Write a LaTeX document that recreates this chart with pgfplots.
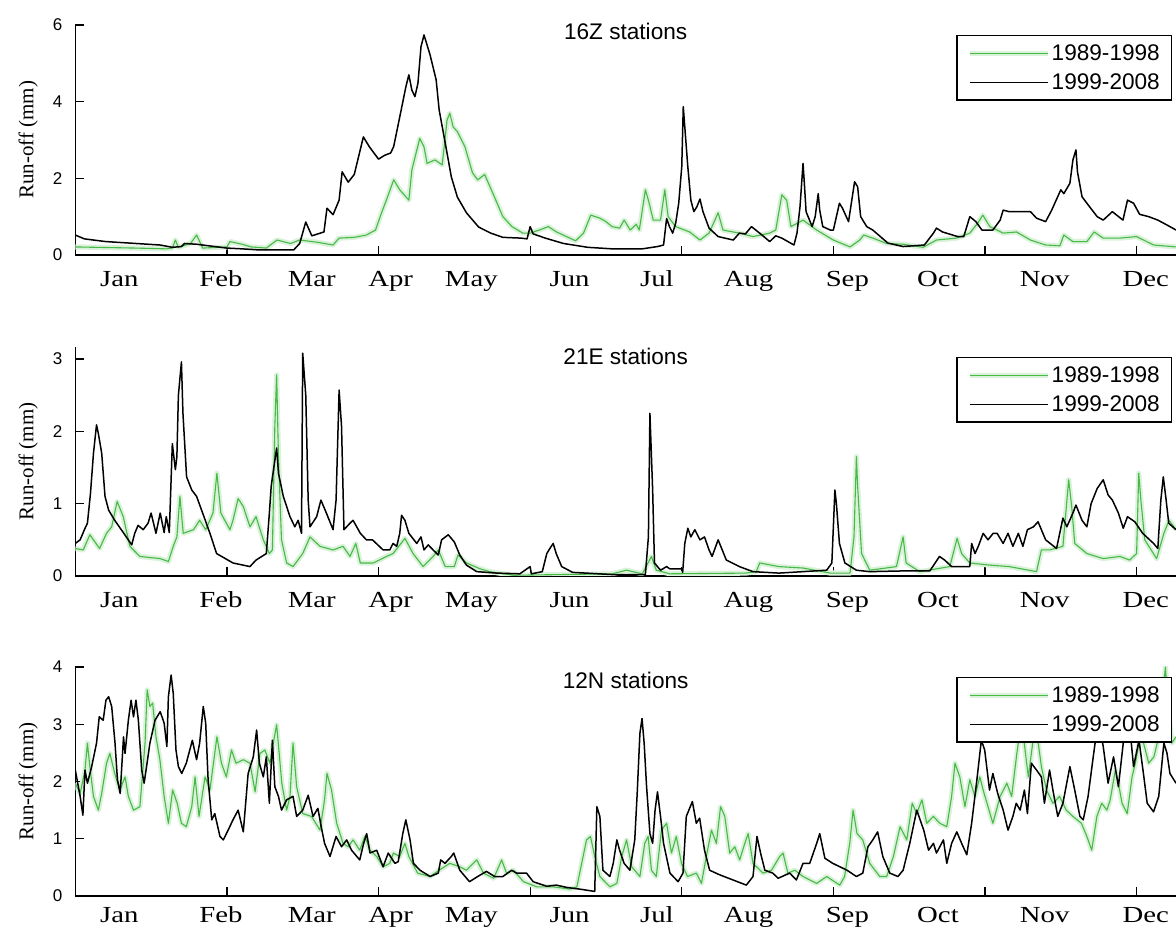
\documentclass[border=0pt]{standalone}
\usepackage{fontspec}
\setmainfont{Liberation Serif}
\newfontfamily\sansf{Liberation Sans}
\newfontfamily\monthf[FakeStretch=1.25]{Liberation Serif}
\usepackage{pgfplots}
\pgfplotsset{compat=1.18}
\definecolor{pgreen}{RGB}{70,185,70}
\pgfplotsset{
 panel/.style={
  scale only axis, width=550.35pt,
  xmin=0, xmax=363, ymin=0,
  axis x line*=bottom, axis y line*=left,
  axis line style={-, line width=0.6pt},
  xtick={50,100,...,350}, xticklabels={},
  major tick length=4.5pt, tick style={line width=0.6pt, black},
  extra x ticks={14.5,48,78,104,130.6,163,191.8,222,254.6,284.5,319.7,353},
  extra x tick labels={Jan,Feb,Mar,Apr,May,Jun,Jul,Aug,Sep,Oct,Nov,Dec},
  extra x tick style={major tick length=0pt},
  xticklabel style={font=\monthf\fontsize{11.5}{13}\selectfont, anchor=base, yshift=-16pt},
  yticklabel style={font=\sansf\fontsize{8.5}{10}\selectfont, xshift=-3pt},
  /pgf/number format/assume math mode=true,
  ylabel={Run-off (mm)},
  ylabel style={font=\fontsize{10.5}{12}\selectfont, at={(axis description cs:-0.0427,0.5)}, anchor=center},
  title style={font=\sansf\fontsize{11.3}{13}\selectfont, at={(axis description cs:0.5,1)}, anchor=center},
  legend style={font=\sansf\fontsize{11.3}{13}\selectfont, at={(1,1)}, anchor=north east, xshift=-2pt, yshift=-5pt, draw=black, line width=0.6pt, fill=white, inner xsep=5pt, inner ysep=3pt, row sep=3pt, nodes={inner sep=0.8pt, text height=8.5pt, text depth=1.5pt}},
  legend cell align=left,
  legend image code/.code={\draw[##1] (0pt,0pt) -- (39pt,0pt);},
 },
 gline/.style={color=pgreen, line width=0.55pt, line join=round, preaction={draw=pgreen!20, line width=2.6pt}},
 bline/.style={black, line width=0.75pt, line join=round},
}
\begin{document}
\begin{tikzpicture}
% ---------------- Panel 1: 16Z
\begin{axis}[panel, at={(37.65pt,337pt)}, anchor=south west, height=115pt,
  ymax=6, ytick={0,2,4,6}, title={16Z stations}, title style={yshift=-9pt}]
\addplot[gline] coordinates {
(0,0.21) (20,0.18) (30,0.16) (32,0.18) (33,0.39) (34,0.2) (38,0.3) (40,0.52) (42,0.18) (50,0.21) (51,0.35) (55,0.28) (58,0.21) (63,0.18) (66.5,0.39) (71,0.3) (74,0.39) (80,0.33) (85,0.26) (87,0.44) (92,0.46) (96,0.52) (99,0.65) (101,1.1) (103,1.52) (105,1.96) (107,1.7) (110,1.43) (111,2.22) (113.6,3.04) (115,2.82) (116,2.39) (118.6,2.48) (121,2.35) (122.6,3.52) (123.5,3.7) (124.6,3.34) (126,3.22) (128.5,2.82) (131,2.14) (132.7,1.96) (135,2.1) (137.7,1.61) (141,1.0) (144,0.74) (147.6,0.57) (150,0.57) (153,0.65) (156,0.74) (158.7,0.6) (162,0.48) (165,0.37) (167.6,0.57) (170,1.04) (173,0.96) (175,0.87) (177,0.74) (179.5,0.7) (181,0.91) (183,0.65) (185,0.8) (186,0.65) (188,1.7) (189,1.43) (190.6,0.91) (193,0.91) (194.4,1.7) (195.5,1.0) (198,0.74) (202.6,0.6) (206,0.39) (209,0.57) (212,1.1) (213.6,0.65) (219,0.57) (223.5,0.48) (229,0.57) (231,0.65) (233,1.57) (234.6,1.43) (236,0.74) (240,0.91) (244.5,0.65) (250,0.39) (255.5,0.21) (258.7,0.39) (260,0.52) (263,0.44) (267.6,0.3) (273,0.28) (279.6,0.2) (284,0.39) (290.6,0.44) (295,0.57) (297.6,0.83) (299.3,1.04) (301.6,0.74) (306,0.57) (310.4,0.6) (315,0.39) (320,0.26) (324.7,0.24) (326,0.52) (329,0.35) (333.6,0.35) (336,0.6) (339,0.44) (344.5,0.44) (350,0.48) (355.6,0.26) (363,0.21)
};
\addlegendentry{1989-1998}
\addplot[bline] coordinates {
(0,0.52) (3,0.42) (10,0.35) (20,0.3) (28,0.26) (32,0.2) (35,0.22) (36,0.3) (40,0.28) (45,0.23) (50,0.18) (55,0.16) (61,0.13) (66,0.13) (72,0.13) (74,0.3) (76,0.86) (78,0.5) (80,0.55) (82,0.6) (83,1.22) (85,1.05) (87,1.43) (88,2.17) (90,1.9) (92,2.1) (95,3.08) (97,2.82) (100,2.5) (102,2.6) (104,2.66) (105,2.83) (107,3.6) (109,4.38) (110,4.7) (111,4.3) (112,4.13) (113,4.48) (114,5.43) (115,5.74) (116,5.48) (117,5.22) (119,4.57) (120,3.78) (122,2.92) (124,2.04) (126,1.51) (129,1.1) (133,0.73) (137,0.57) (141,0.46) (147,0.44) (149,0.42) (150,0.74) (151,0.55) (155,0.44) (161,0.3) (169,0.2) (177,0.16) (187,0.16) (192,0.22) (194,0.26) (195,0.95) (196,0.73) (197,0.57) (198,0.83) (199,1.35) (200,2.3) (200.5,3.87) (201,3.34) (202,2.3) (203,1.43) (204,1.13) (205,1.26) (206,1.46) (207,1.13) (209,0.7) (212,0.48) (217,0.39) (219,0.57) (221,0.55) (223,0.74) (226,0.55) (229,0.35) (231,0.5) (233,0.44) (237,0.26) (238,0.57) (239,1.26) (240,2.39) (240.5,1.78) (241,1.13) (243,0.74) (244,1.0) (245,1.6) (245.5,1.17) (246.5,0.74) (249,0.65) (250,0.65) (252,1.35) (253,1.22) (255,0.87) (257,1.91) (258,1.78) (259,1.0) (261,0.74) (263,0.65) (268,0.31) (273,0.22) (280,0.26) (283,0.57) (284,0.7) (286,0.6) (291,0.48) (293,0.48) (295,1.0) (297,0.87) (299,0.65) (302.6,0.65) (305,0.91) (306,1.17) (308,1.13) (315,1.13) (317,0.96) (320,0.87) (322,1.17) (325,1.7) (326,1.6) (328,1.87) (329,2.48) (330,2.74) (330.5,2.17) (332,1.52) (333.6,1.35) (337,1.0) (339,0.91) (342,1.13) (345.5,0.91) (347,1.43) (349,1.35) (351,1.06) (354,1.0) (357,0.91) (361,0.74) (363,0.65)
};
\addlegendentry{1999-2008}
\end{axis}
% ---------------- Panel 2: 21E
\begin{axis}[panel, at={(37.65pt,176.5pt)}, anchor=south west, height=114.5pt,
  ymax=3.166, ytick={0,1,2,3}, title={21E stations}, title style={yshift=-10.5pt}]
\addplot[gline] coordinates {
(0,0.38) (2.6,0.36) (4.8,0.57) (8,0.38) (10.3,0.59) (12,0.68) (13.8,1.03) (15.8,0.82) (18,0.41) (21.3,0.27) (28,0.24) (30.7,0.2) (32.3,0.41) (33.5,0.54) (34.5,1.1) (35.6,0.59) (39,0.64) (41,0.77) (43,0.64) (45.4,0.87) (46.7,1.42) (48,0.87) (51,0.64) (52,0.77) (53.7,1.07) (55.4,0.96) (57.6,0.68) (59.6,0.82) (62,0.5) (64,0.31) (65,0.36) (65.8,2.07) (66.4,2.78) (67,1.65) (68,0.5) (69.7,0.18) (71.8,0.13) (75,0.31) (77.4,0.54) (80.7,0.41) (85,0.36) (88.3,0.41) (90.6,0.27) (92.5,0.45) (94,0.18) (98.3,0.18) (102.6,0.27) (104.8,0.31) (108.7,0.52) (111.4,0.31) (114.7,0.13) (118,0.27) (119.7,0.36) (122,0.13) (125,0.13) (126.2,0.29) (129,0.18) (133.4,0.1) (136.7,0.06) (144.4,0.01) (177,0.03) (181.8,0.08) (187,0.03) (190,0.27) (191.6,0.08) (196,0.03) (221,0.04) (224.6,0.06) (225.7,0.18) (232,0.13) (240,0.11) (249,0.04) (255.5,0.04) (256.8,0.54) (257.6,1.65) (258,1.24) (259.3,0.31) (262,0.08) (270.8,0.13) (273,0.54) (274,0.18) (278.5,0.06) (288.4,0.13) (290.8,0.52) (292.3,0.31) (295,0.18) (301.6,0.15) (308,0.13) (317,0.06) (318.6,0.36) (321.3,0.36) (325.7,0.41) (327.6,1.33) (328.6,0.96) (329.6,0.45) (333.6,0.31) (339,0.24) (344.5,0.27) (347.7,0.22) (350,0.31) (350.7,1.42) (351.4,1.05) (352.7,0.5) (356.6,0.24) (359,0.59) (360.7,0.77) (363,0.64)
};
\addlegendentry{1989-1998}
\addplot[bline] coordinates {
(0,0.45) (1.6,0.5) (3,0.64) (4,0.73) (5,1.14) (6,1.7) (7,2.09) (7.6,1.97) (8.7,1.7) (9.8,1.1) (11,0.91) (13,0.77) (16,0.59) (18.6,0.43) (19.6,0.59) (20.7,0.7) (22.4,0.64) (24,0.73) (25,0.87) (26.6,0.59) (28,0.87) (29.3,0.6) (30,0.82) (31,0.6) (32,1.83) (33,1.47) (33.5,1.65) (34,2.5) (35,2.96) (35.5,2.25) (36.7,1.37) (38.4,1.19) (40,1.1) (42,0.87) (44.4,0.59) (46.6,0.31) (52,0.18) (57.6,0.13) (59.6,0.22) (63,0.31) (64,0.87) (64.6,1.24) (65.5,1.51) (66.4,1.77) (67,1.42) (68.6,1.1) (70.8,0.82) (72.4,0.68) (73.5,0.77) (74.6,0.59) (75,3.08) (76,2.5) (76.8,1.05) (77.4,0.68) (79.6,0.82) (81,1.05) (82.8,0.87) (85,0.64) (86,1.05) (87,2.57) (87.8,2.07) (88.6,0.64) (90.6,0.73) (91.6,0.77) (94,0.59) (96,0.5) (98,0.5) (101.5,0.36) (103.7,0.36) (104.8,0.45) (106,0.41) (107,0.59) (107.6,0.84) (108.7,0.77) (110,0.59) (112.6,0.45) (114,0.54) (115,0.36) (116.4,0.43) (118,0.36) (119.7,0.29) (120.8,0.5) (123,0.57) (125,0.47) (126.8,0.29) (129,0.15) (132.4,0.06) (139,0.04) (146.6,0.03) (150,0.13) (150.4,0.03) (154,0.06) (155.5,0.31) (156.5,0.38) (157.6,0.45) (158.6,0.31) (160.4,0.13) (164,0.05) (177,0.02) (188,0.02) (189,0.54) (189.5,2.25) (190.4,1.19) (191,0.18) (193,0.08) (195,0.13) (196,0.1) (200,0.1) (200.3,0.05) (201,0.45) (202,0.66) (203,0.54) (204.3,0.64) (206,0.5) (207.5,0.54) (209,0.36) (210,0.27) (212,0.5) (214.7,0.22) (219,0.13) (223.5,0.06) (232,0.04) (240,0.06) (247.8,0.08) (249.5,0.18) (250,0.68) (250.5,1.19) (251,1.0) (252,0.45) (253.8,0.18) (257.6,0.08) (262,0.06) (273,0.07) (281.8,0.07) (285,0.27) (286.7,0.22) (289,0.13) (295,0.13) (295.6,0.45) (296.7,0.31) (297.8,0.41) (299.4,0.59) (301,0.5) (302.7,0.59) (304,0.59) (306,0.45) (307.6,0.59) (309.2,0.41) (311,0.59) (312.5,0.41) (314,0.64) (316,0.68) (317.5,0.75) (318.6,0.64) (320,0.5) (323.6,0.38) (325.7,0.8) (327,0.68) (329,0.87) (330,0.98) (332,0.77) (333.6,0.68) (335,1.0) (337,1.21) (339,1.33) (340.6,1.12) (342,1.05) (344,0.87) (345.6,0.66) (347,0.82) (349.4,0.75) (352,0.59) (355.6,0.45) (357,0.38) (358,1.05) (358.8,1.37) (359.6,1.1) (360.6,0.73) (363,0.64)
};
\addlegendentry{1999-2008}
\end{axis}
% ---------------- Panel 3: 12N
\begin{axis}[panel, at={(37.65pt,16.5pt)}, anchor=south west, height=114.5pt,
  ymax=4, ytick={0,1,2,3,4}, title={12N stations}, title style={yshift=-12.5pt},
  xticklabel style={yshift=2.5pt}]
\addplot[gline] coordinates {
(0,1.97) (1.6,1.79) (3.2,2.2) (4,2.67) (4.8,2.26) (6,1.74) (7.6,1.5) (8.7,1.79) (10.3,2.32) (11.4,2.49) (13,2.14) (14.7,1.85) (16.4,2.08) (17.5,1.74) (19.2,1.5) (21.3,1.56) (23,2.67) (23.7,3.6) (24.6,3.31) (25.5,3.37) (26.6,2.78) (27.9,2.38) (29.3,1.74) (30.7,1.27) (32.1,1.85) (33.6,1.62) (35,1.27) (36.6,1.21) (38.4,1.56) (39.5,2.08) (40.8,1.39) (42.8,2.08) (44.4,1.85) (46.7,2.78) (48.2,2.32) (49.8,2.08) (51.5,2.55) (53,2.32) (55.4,2.38) (57.6,2.32) (59.3,1.82) (60.9,2.49) (62.5,2.55) (64.2,2.32) (65.3,2.67) (66.4,2.99) (68.1,1.97) (69.7,1.5) (70.8,1.74) (71.8,2.67) (73,1.91) (75,1.44) (77.9,1.39) (80.7,1.15) (82.2,1.68) (83,2.14) (84.5,1.85) (86.2,1.27) (88.3,0.92) (90,0.86) (91.6,0.98) (93.8,0.8) (95.5,1.04) (97.2,0.8) (99.4,0.69) (101.5,0.51) (103.7,0.57) (104.9,0.75) (107,0.69) (108.7,0.92) (110,0.69) (112.9,0.4) (117,0.34) (120,0.45) (123.5,0.57) (126.8,0.51) (129,0.45) (132.4,0.63) (134.6,0.4) (138,0.31) (140.6,0.63) (142.2,0.4) (144.5,0.45) (147.8,0.25) (152.2,0.16) (157.6,0.16) (163.1,0.12) (165.4,0.16) (167,0.57) (168.6,0.98) (169.9,1.04) (171.3,0.69) (173,0.34) (176.3,0.16) (178.6,0.22) (180.2,0.69) (181.8,0.98) (183.5,0.51) (186.2,0.34) (187.8,0.92) (188.9,1.04) (190,0.45) (191.6,0.34) (193.3,1.15) (195,1.27) (196.6,0.75) (198.2,1.04) (199.9,0.57) (201.9,0.34) (204.8,0.4) (206.5,0.22) (208.1,0.69) (209.8,1.15) (211.4,0.92) (212.8,1.56) (214.2,1.39) (215.8,0.75) (217.5,0.86) (219.1,0.63) (220.8,0.92) (221.9,1.09) (223.5,0.57) (226.8,0.4) (229.6,0.45) (232.3,0.69) (233.4,0.75) (235,0.4) (237.3,0.45) (240,0.34) (244.5,0.22) (247.8,0.34) (252.1,0.19) (253.7,0.34) (255.4,0.92) (256.5,1.5) (257.8,1.09) (259.7,0.98) (262,0.57) (265.3,0.34) (267.6,0.34) (269.8,0.69) (272,1.21) (274.2,0.98) (276,1.62) (277.5,1.44) (279.2,1.68) (280.8,1.27) (283,1.39) (285.1,1.27) (287.4,1.21) (289,1.74) (290.1,2.32) (291.7,2.08) (293.4,1.56) (295,2.03) (296.7,1.74) (298.3,2.08) (299.4,1.85) (301,1.56) (302.6,1.27) (305,1.74) (307.2,1.97) (308.8,1.74) (310.5,2.49) (311.6,2.9) (312.7,2.78) (314.3,2.08) (316,2.78) (317,2.9) (318.6,2.26) (320.3,1.85) (322.4,1.62) (324.6,1.74) (326.8,1.5) (329,1.39) (331.8,1.27) (333.6,1.04) (335.2,0.8) (336.9,1.39) (338.5,1.62) (340.2,1.5) (341.3,1.68) (343,2.2) (344,1.97) (345.2,1.62) (346.9,1.44) (348.5,2.08) (349.6,2.32) (351.2,2.78) (352.3,2.67) (354,2.32) (355.7,2.43) (356.8,2.67) (358.4,3.37) (359.5,4.0) (360.5,3.25) (361.6,2.67) (363,2.78)
};
\addlegendentry{1989-1998}
\addplot[bline] coordinates {
(0,2.2) (0.8,1.97) (1.6,1.74) (2.5,1.41) (3.2,2.2) (4,1.97) (5.4,2.26) (7,2.67) (7.9,3.13) (9.2,3.07) (10.1,3.42) (11,3.48) (12,3.31) (13.1,2.67) (13.9,2.03) (14.8,1.79) (15.9,2.78) (16.4,2.49) (17.5,3.07) (18.4,3.42) (19.2,3.13) (20,3.42) (20.8,3.07) (21.9,2.2) (22.7,1.97) (23.5,2.26) (24.6,2.67) (26.3,3.07) (28,3.22) (29.3,3.02) (30.2,2.61) (30.7,3.48) (31.6,3.86) (32.3,3.54) (33.2,2.55) (34,2.26) (35.1,2.14) (36.6,2.32) (38.6,2.72) (40,2.38) (41,2.67) (42.2,3.31) (43,3.02) (43.8,2.03) (45,1.33) (46,1.44) (47.7,1.04) (48.8,0.98) (50.4,1.15) (52,1.33) (53.7,1.5) (55.4,1.12) (57,2.14) (58.7,2.43) (59.8,2.9) (60.7,2.32) (62,2.08) (63,2.43) (64,1.62) (65,2.72) (65.8,1.91) (67,1.74) (68,1.5) (69.7,1.68) (71.8,1.74) (73,1.39) (75,1.5) (76.8,1.76) (78.4,1.39) (80,1.53) (81.1,1.21) (82.2,0.92) (84,0.69) (86,1.04) (87.8,0.86) (89.5,0.98) (91.1,0.8) (93.8,0.63) (95.1,0.92) (96.1,1.09) (97.2,0.75) (99.4,0.8) (101.5,0.51) (103.2,0.75) (105.4,0.57) (106.5,0.6) (108,1.09) (109,1.33) (110.4,0.98) (111.5,0.57) (113.7,0.45) (117,0.34) (119.7,0.4) (120.5,0.63) (121.9,0.57) (124,0.69) (124.8,0.75) (126.8,0.45) (130,0.25) (132.7,0.34) (135.6,0.43) (138.3,0.34) (141,0.34) (143.9,0.45) (145.5,0.4) (148.8,0.4) (151,0.25) (155.5,0.17) (158.7,0.19) (162,0.15) (166.4,0.12) (171.3,0.08) (172,1.56) (173,1.39) (174,0.45) (176.3,0.34) (177.4,0.57) (178.6,0.98) (179.5,0.8) (181,0.57) (182.9,0.45) (184.5,0.98) (185.3,1.79) (186.2,2.84) (186.9,3.1) (187.6,2.67) (188.4,1.91) (189.5,1.09) (190.4,0.92) (191.2,1.5) (192,1.82) (193,1.39) (194,0.92) (196.1,0.4) (198.8,0.25) (200.4,0.4) (201.5,1.39) (203.5,1.65) (204.8,1.27) (205.9,1.36) (207.5,0.8) (209.2,0.45) (212.5,0.37) (216.9,0.28) (221.3,0.19) (223.5,0.34) (224.8,1.04) (226,0.75) (227.4,0.45) (230,0.4) (231.8,0.31) (235.6,0.4) (237.8,0.28) (240,0.57) (242.2,0.57) (244.5,0.92) (245.5,1.09) (247.2,0.66) (249.8,0.57) (254.5,0.45) (257.6,0.34) (259.7,0.4) (261.4,0.86) (263,0.98) (264.6,1.12) (266.3,0.69) (268.6,0.4) (271.3,0.34) (273,0.45) (275.2,0.92) (277.5,1.5) (279.8,1.15) (281.4,0.8) (283,0.92) (284,0.75) (286.3,0.98) (287.4,0.57) (289,0.92) (290.7,1.12) (292.3,0.92) (294,0.72) (295.6,1.27) (297.2,1.97) (298.8,2.72) (299.9,2.55) (301.5,1.85) (302.6,2.14) (304.2,1.79) (306,1.5) (307.6,1.15) (309.2,1.39) (310.3,1.62) (311.6,1.5) (313,1.85) (314,1.44) (315.3,2.32) (317,2.2) (318.6,2.08) (319.6,1.62) (321.3,2.2) (322.4,1.85) (324,1.39) (325.7,1.62) (328,2.26) (329.6,1.85) (331.3,1.39) (332.4,1.33) (334,1.74) (335.7,2.43) (337.4,3.1) (339,2.61) (340.6,1.97) (342.4,2.43) (344,1.91) (345.6,2.67) (347.3,3.2) (349,2.26) (350.8,2.72) (352.4,2.08) (353.5,1.62) (355.6,1.47) (357.3,1.74) (359,2.67) (360,2.5) (361,2.14) (363,1.97)
};
\addlegendentry{1999-2008}
\end{axis}
\pgfresetboundingbox
\path[use as bounding box] (0,0) rectangle (588pt,464.5pt);
\end{tikzpicture}
\end{document}
